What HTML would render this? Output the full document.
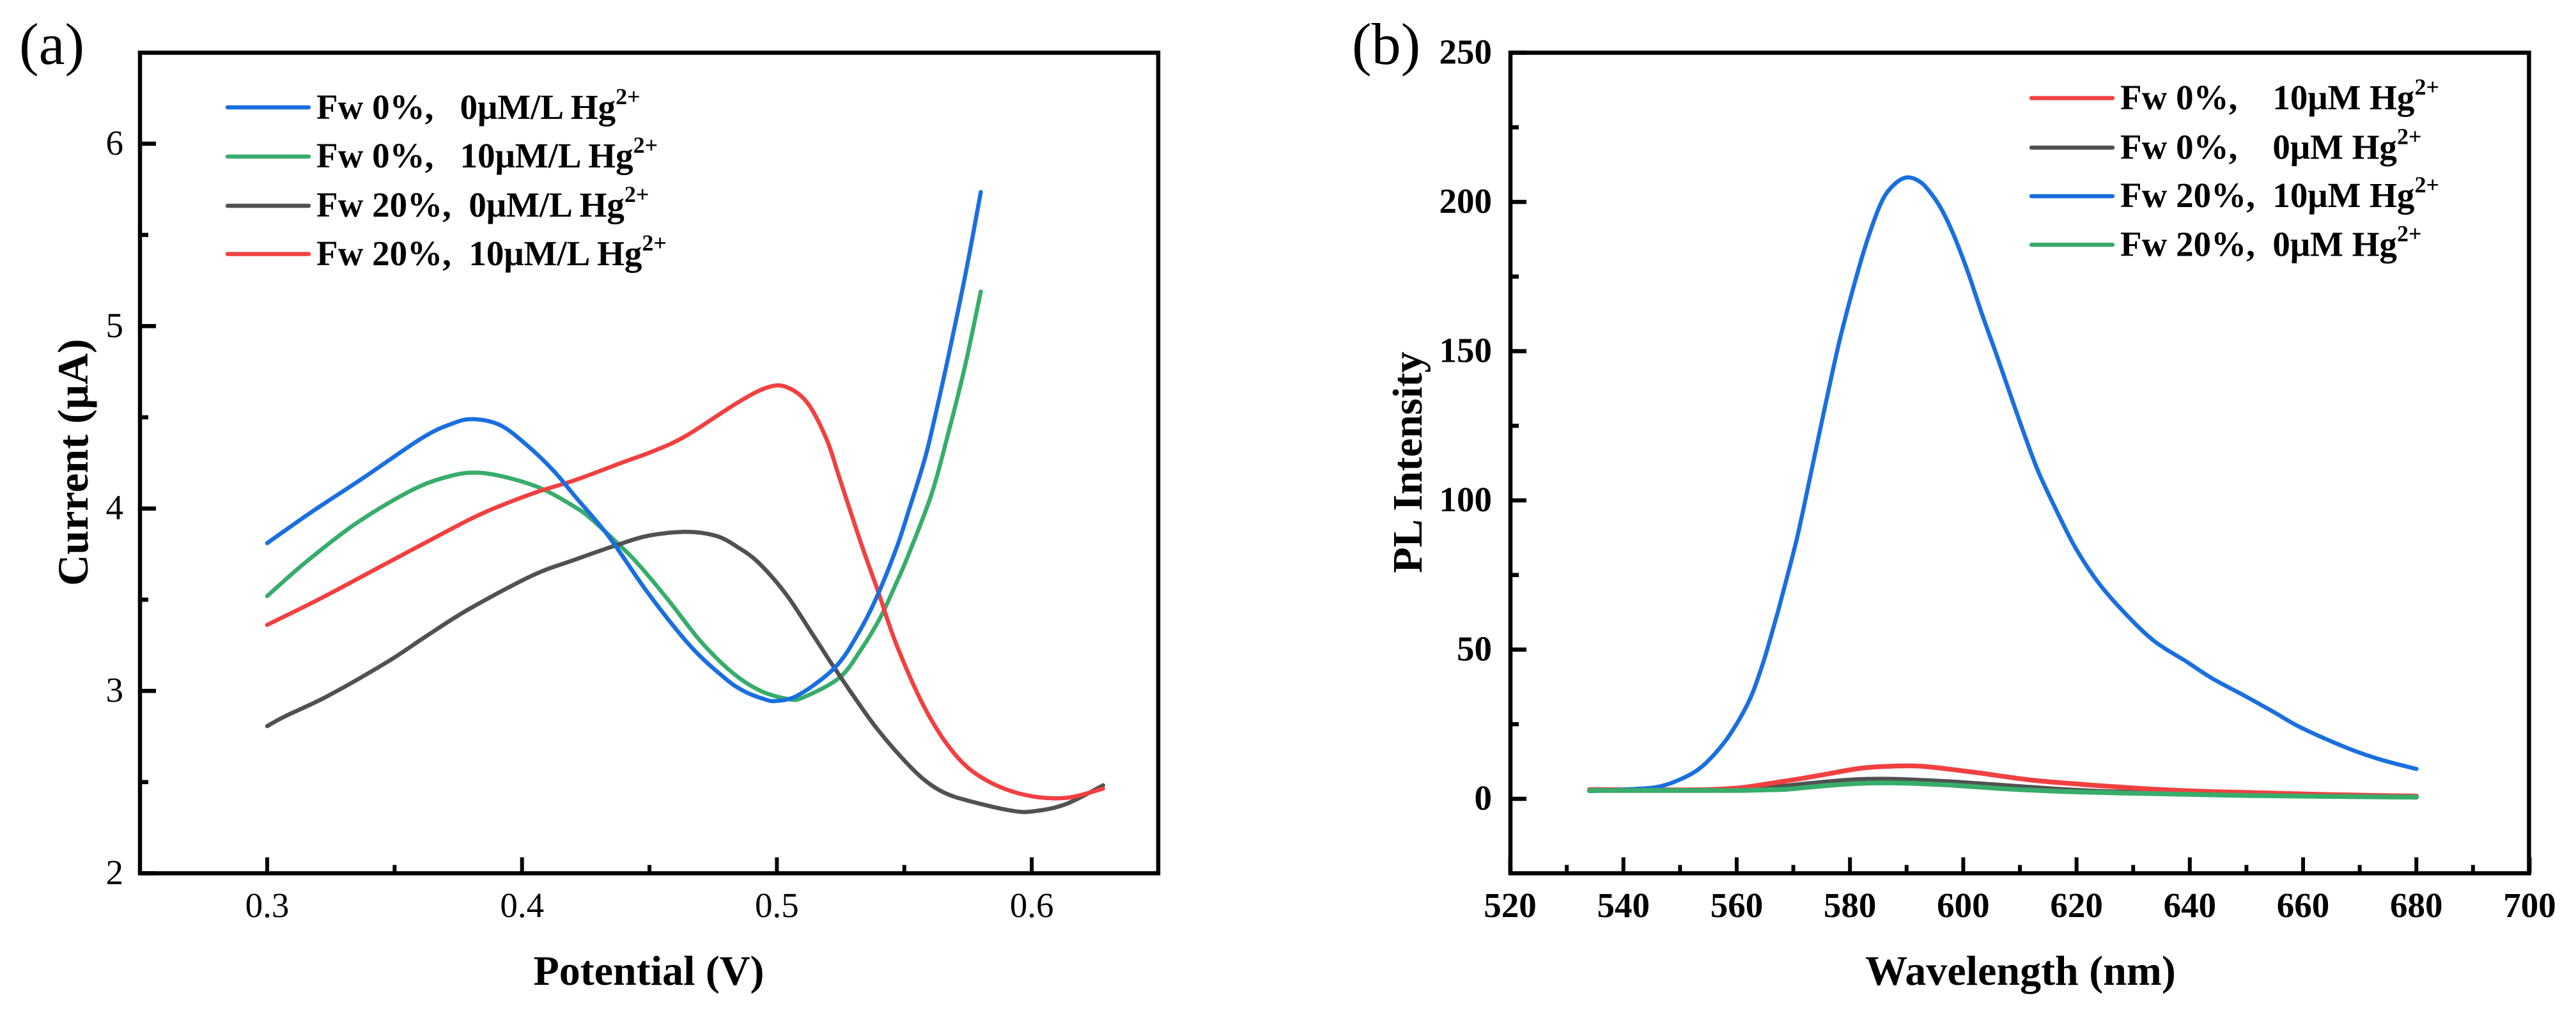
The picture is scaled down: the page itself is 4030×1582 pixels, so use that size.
<!DOCTYPE html>
<html lang="en">
<head>
<meta charset="utf-8">
<title>Current and PL intensity charts</title>
<style>
html,body{margin:0;padding:0;background:#fff;width:4030px;height:1582px;overflow:hidden}
svg{display:block}
text{font-family:"Liberation Serif","Times New Roman",serif;fill:#000;white-space:pre}
.b{font-weight:bold}
.leg{font-weight:bold;font-size:55px}
.sup{font-size:36px}
</style>
</head>
<body>
<svg id="fig" xmlns="http://www.w3.org/2000/svg" width="4030" height="1582" viewBox="0 0 4030 1582">
  <rect width="4030" height="1582" fill="#fff"/>
  <g id="panelA">
    <text x="30" y="100" font-size="92">(a)</text>
    <text class="b" x="1015" y="1541" font-size="66" text-anchor="middle">Potential (V)</text>
    <text class="b" font-size="68" text-anchor="middle" transform="translate(137,723.5) rotate(-90)">Current (μA)</text>
    <g id="seriesA" fill="none" stroke-width="6.5" stroke-linecap="round" stroke-linejoin="round"></g>
    <g id="axesA"></g>
    <g>
      <g>
        <line x1="356" x2="483" y1="168" y2="168" stroke="#1a6fdf" stroke-width="6.5" stroke-linecap="round"/>
        <text class="leg" x="495" y="186">Fw 0%,   0μM/L Hg<tspan class="sup" dy="-23">2+</tspan></text>
      </g>
      <g>
        <line x1="356" x2="483" y1="245" y2="245" stroke="#37ad6b" stroke-width="6.5" stroke-linecap="round"/>
        <text class="leg" x="495" y="262">Fw 0%,   10μM/L Hg<tspan class="sup" dy="-23">2+</tspan></text>
      </g>
      <g>
        <line x1="356" x2="483" y1="322" y2="322" stroke="#515151" stroke-width="6.5" stroke-linecap="round"/>
        <text class="leg" x="495" y="339">Fw 20%,  0μM/L Hg<tspan class="sup" dy="-23">2+</tspan></text>
      </g>
      <g>
        <line x1="356" x2="483" y1="397.5" y2="397.5" stroke="#f14040" stroke-width="6.5" stroke-linecap="round"/>
        <text class="leg" x="495" y="415">Fw 20%,  10μM/L Hg<tspan class="sup" dy="-23">2+</tspan></text>
      </g>
    </g>
  </g>
  <g id="panelB">
    <text x="2115" y="100" font-size="92">(b)</text>
    <text class="b" x="3161" y="1541" font-size="66" text-anchor="middle">Wavelength (nm)</text>
    <text class="b" font-size="66" text-anchor="middle" transform="translate(2224,723.5) rotate(-90)">PL Intensity</text>
    <g id="seriesB" fill="none" stroke-width="6.5" stroke-linecap="round" stroke-linejoin="round"></g>
    <g id="axesB"></g>
    <g>
      <g>
        <line x1="3178" x2="3305" y1="153.5" y2="153.5" stroke="#f14040" stroke-width="6.5" stroke-linecap="round"/>
        <text class="leg" x="3317" y="171">Fw 0%,    10μM Hg<tspan class="sup" dy="-23">2+</tspan></text>
      </g>
      <g>
        <line x1="3178" x2="3305" y1="231" y2="231" stroke="#515151" stroke-width="6.5" stroke-linecap="round"/>
        <text class="leg" x="3317" y="248.5">Fw 0%,    0μM Hg<tspan class="sup" dy="-23">2+</tspan></text>
      </g>
      <g>
        <line x1="3178" x2="3305" y1="307" y2="307" stroke="#1a6fdf" stroke-width="6.5" stroke-linecap="round"/>
        <text class="leg" x="3317" y="324">Fw 20%,  10μM Hg<tspan class="sup" dy="-23">2+</tspan></text>
      </g>
      <g>
        <line x1="3178" x2="3305" y1="383" y2="383" stroke="#37ad6b" stroke-width="6.5" stroke-linecap="round"/>
        <text class="leg" x="3317" y="400.5">Fw 20%,  0μM Hg<tspan class="sup" dy="-23">2+</tspan></text>
      </g>
    </g>
  </g>
</svg>
<script>
// ---- Panel (a) data ----
var aTickX = ['0.3', '0.4', '0.5', '0.6'];
var aMinorX = [0.35, 0.45, 0.55];
var aTickY = ['2', '3', '4', '5', '6'];
var aMinorY = [2.5, 3.5, 4.5, 5.5];

var aBlueX = [0.3, 0.317, 0.3373, 0.3607, 0.3725, 0.3808, 0.3916, 0.4025, 0.4125, 0.4209, 0.4342, 0.4493, 0.466, 0.4794, 0.4869, 0.495, 0.5, 0.5087, 0.5229, 0.532, 0.5396, 0.5471, 0.552, 0.558, 0.562, 0.568, 0.5747, 0.58];
var aBlueY = [3.81, 3.977, 4.164, 4.386, 4.465, 4.49, 4.456, 4.34, 4.205, 4.065, 3.843, 3.539, 3.247, 3.072, 3.0, 2.955, 2.945, 2.979, 3.13, 3.317, 3.528, 3.79, 4.0, 4.27, 4.5, 4.88, 5.335, 5.735];

var aGreenX = [0.3, 0.3155, 0.3356, 0.3574, 0.3724, 0.3833, 0.3958, 0.4083, 0.4209, 0.4267, 0.4367, 0.4451, 0.4577, 0.4702, 0.4828, 0.4936, 0.5046, 0.5103, 0.5245, 0.5329, 0.5405, 0.5463, 0.5513, 0.5606, 0.5672, 0.5739, 0.58];
var aGreenY = [3.52, 3.71, 3.925, 4.105, 4.18, 4.196, 4.164, 4.105, 4.007, 3.948, 3.82, 3.703, 3.493, 3.27, 3.097, 3.0, 2.955, 2.964, 3.072, 3.224, 3.40, 3.574, 3.735, 4.075, 4.41, 4.785, 5.19];

var aGrayX = [0.3, 0.3072, 0.3239, 0.3473, 0.3624, 0.379, 0.4041, 0.4209, 0.4367, 0.4493, 0.4643, 0.4761, 0.4844, 0.4928, 0.5037, 0.5137, 0.5212, 0.5287, 0.538, 0.5471, 0.557, 0.5655, 0.5756, 0.5922, 0.6007, 0.6132, 0.628];
var aGrayY = [2.807, 2.862, 2.973, 3.16, 3.30, 3.447, 3.633, 3.72, 3.797, 3.85, 3.872, 3.85, 3.79, 3.703, 3.528, 3.317, 3.155, 3.0, 2.816, 2.663, 2.522, 2.443, 2.396, 2.343, 2.34, 2.378, 2.482];

var aRedX = [0.3, 0.3214, 0.3473, 0.3624, 0.3833, 0.4041, 0.4209, 0.4393, 0.4518, 0.4643, 0.4844, 0.4961, 0.5037, 0.512, 0.5195, 0.5245, 0.533, 0.5396, 0.5471, 0.5588, 0.5706, 0.5822, 0.5973, 0.6132, 0.628];
var aRedY = [3.362, 3.51, 3.703, 3.815, 3.966, 4.082, 4.156, 4.252, 4.316, 4.398, 4.579, 4.663, 4.666, 4.579, 4.38, 4.17, 3.81, 3.55, 3.247, 2.886, 2.64, 2.51, 2.43, 2.413, 2.464];

// ---- Panel (b) data ----
var bTickX = ['520', '540', '560', '580', '600', '620', '640', '660', '680', '700'];
var bMinorX = [530, 550, 570, 590, 610, 630, 650, 670, 690];
var bTickY = ['0', '50', '100', '150', '200', '250'];
var bMinorY = [25, 75, 125, 175, 225];

var bBlueX = [534, 541, 546.1, 549.9, 553.6, 557.4, 560.4, 562.7, 564.9, 566.8, 567.6, 570.6, 573.1, 575.6, 578.1, 580.7, 583.2, 585.7, 587.9, 590, 592, 593.7, 596, 598.3, 600.8, 603.3, 605.8, 608.4, 610.9, 613.4, 617, 620, 624, 628.6, 633.7, 639.4, 644, 649.9, 654.9, 659.6, 667.7, 673.6, 680];
var bBlueY = [2.6, 3.2, 4, 6.4, 10.4, 17.9, 26.4, 35, 47, 59.5, 65, 87, 109, 131.5, 153, 172, 188, 200.5, 206, 208.2, 207.2, 204.3, 198.1, 189, 176.6, 162.5, 149.2, 135, 121.5, 109, 94.5, 83.5, 72.1, 62.1, 52.9, 46, 40.3, 34.3, 29, 23.9, 17.1, 13.2, 10];

var bRedX = [534, 545, 555, 560, 563, 568.7, 571.7, 576.2, 581.7, 586.8, 592.8, 601.9, 612, 622, 632, 642.2, 650.7, 665, 680];
var bRedY = [3.1, 3.0, 3.1, 3.6, 4.3, 6, 6.9, 8.4, 10.2, 10.9, 10.9, 8.9, 6.3, 4.7, 3.4, 2.5, 2.1, 1.4, 0.9];

var bGrayX = [534, 545, 555, 560, 565, 568.7, 571.7, 576.2, 581, 586.8, 596.9, 607, 617, 627, 650.7, 680];
var bGrayY = [2.8, 2.8, 2.8, 3.0, 3.6, 4.3, 4.9, 5.7, 6.4, 6.6, 5.8, 4.5, 3.2, 2.3, 1.2, 0.55];

var bGreenX = [534, 545, 555, 560, 565, 568.7, 571.7, 576.2, 581, 586.8, 596.9, 607, 617, 627, 650.7, 680];
var bGreenY = [2.8, 2.8, 2.8, 2.8, 3.0, 3.2, 3.7, 4.5, 5.1, 5.35, 4.7, 3.4, 2.5, 2, 1.1, 0.55];

// ---- Axis scale functions ----
function ax(v) { return 418 + (v - 0.3) * 3987; }
function ay(v) { return 1366.5 - (v - 2) * 285.4; }
function bx(v) { return 2362.5 + (v - 520) * 8.861; }
function by(v) { return 1250 - v * 4.67; }

var NS = 'http://www.w3.org/2000/svg';

function smoothPath(xs, ys, fx, fy) {
  var p = [];
  for (var i = 0; i < xs.length; i++) { p.push([fx(xs[i]), fy(ys[i])]); }
  var d = 'M' + p[0][0].toFixed(1) + ' ' + p[0][1].toFixed(1);
  for (var j = 0; j < p.length - 1; j++) {
    var p0 = p[j - 1] || p[j], p1 = p[j], p2 = p[j + 1], p3 = p[j + 2] || p2;
    var c1x = p1[0] + (p2[0] - p0[0]) / 6, c1y = p1[1] + (p2[1] - p0[1]) / 6;
    var c2x = p2[0] - (p3[0] - p1[0]) / 6, c2y = p2[1] - (p3[1] - p1[1]) / 6;
    d += 'C' + c1x.toFixed(1) + ' ' + c1y.toFixed(1) + ' ' + c2x.toFixed(1) + ' ' + c2y.toFixed(1) + ' ' + p2[0].toFixed(1) + ' ' + p2[1].toFixed(1);
  }
  return d;
}

function drawSeries(parentId, name, xs, ys, fx, fy, color, width) {
  var el = document.createElementNS(NS, 'path');
  
  
  el.setAttribute('d', smoothPath(xs, ys, fx, fy));
  el.setAttribute('stroke', color);
  if (width) { el.setAttribute('stroke-width', width); }
  document.getElementById(parentId).appendChild(el);
}

function drawLine(parent, name, x1, y1, x2, y2, w) {
  var el = document.createElementNS(NS, 'line');
  
  
  el.setAttribute('x1', x1);
  el.setAttribute('y1', y1);
  el.setAttribute('x2', x2);
  el.setAttribute('y2', y2);
  el.setAttribute('stroke', '#000');
  el.setAttribute('stroke-width', w);
  parent.appendChild(el);
}

function drawText(parent, name, x, y, str, anchor, bold) {
  var el = document.createElementNS(NS, 'text');
  
  
  el.setAttribute('x', x);
  el.setAttribute('y', y);
  el.setAttribute('font-size', '55');
  el.setAttribute('text-anchor', anchor);
  if (bold) { el.setAttribute('font-weight', 'bold'); }
  el.textContent = str;
  parent.appendChild(el);
}

function drawAxes(id, suffix, fx, fy, left, right, top, bottom, tx, mx, ty, my, bold, yLabelRight) {
  var g = document.getElementById(id);
  var i, p;
  for (i = 0; i < tx.length; i++) {
    p = fx(parseFloat(tx[i]));
    drawLine(g, 'x-major-tick-' + suffix, p, bottom - 25, p, bottom, 6);
    drawText(g, 'x-tick-label-' + suffix, p, 1435, tx[i], 'middle', bold);
  }
  for (i = 0; i < mx.length; i++) {
    p = fx(mx[i]);
    drawLine(g, 'x-minor-tick-' + suffix, p, bottom - 13, p, bottom, 6);
  }
  for (i = 0; i < ty.length; i++) {
    p = fy(parseFloat(ty[i]));
    drawLine(g, 'y-major-tick-' + suffix, left, p, left + 25, p, 6.5);
    drawText(g, 'y-tick-label-' + suffix, yLabelRight, p + 17, ty[i], 'end', bold);
  }
  for (i = 0; i < my.length; i++) {
    p = fy(my[i]);
    drawLine(g, 'y-minor-tick-' + suffix, left, p, left + 13, p, 6.5);
  }
  var f = document.createElementNS(NS, 'rect');
  
  
  f.setAttribute('x', left);
  f.setAttribute('y', top);
  f.setAttribute('width', right - left);
  f.setAttribute('height', bottom - top);
  f.setAttribute('fill', 'none');
  f.setAttribute('stroke', '#000');
  f.setAttribute('stroke-width', '6.5');
  g.appendChild(f);
}

drawSeries('seriesA', 'line-fw0-10um', aGreenX, aGreenY, ax, ay, '#37ad6b');
drawSeries('seriesA', 'line-fw20-0um', aGrayX, aGrayY, ax, ay, '#515151');
drawSeries('seriesA', 'line-fw20-10um', aRedX, aRedY, ax, ay, '#f14040');
drawSeries('seriesA', 'line-fw0-0um', aBlueX, aBlueY, ax, ay, '#1a6fdf');

drawSeries('seriesB', 'line-pl-fw0-0um', bGrayX, bGrayY, bx, by, '#515151', 7.5);
drawSeries('seriesB', 'line-pl-fw0-10um', bRedX, bRedY, bx, by, '#f14040', 7.5);
drawSeries('seriesB', 'line-pl-fw20-10um', bBlueX, bBlueY, bx, by, '#1a6fdf');
drawSeries('seriesB', 'line-pl-fw20-0um', bGreenX, bGreenY, bx, by, '#37ad6b', 7.5);

drawAxes('axesA', 'a', ax, ay, 219, 1812, 82.5, 1366.5, aTickX, aMinorX, aTickY, aMinorY, false, 193);
drawAxes('axesB', 'b', bx, by, 2363, 3956.5, 82.5, 1366.5, bTickX, bMinorX, bTickY, bMinorY, true, 2334);
</script>
</body>
</html>
